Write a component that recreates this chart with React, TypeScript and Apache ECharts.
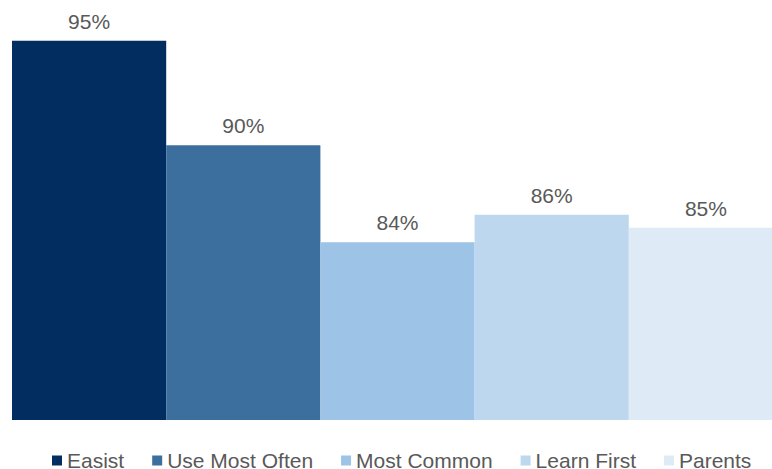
import React, { useEffect, useRef } from "react";
import * as echarts from "echarts";

const seriesNames = ["Easist", "Use Most Often", "Most Common", "Learn First", "Parents"];
const seriesValues = [95.3, 89.6, 84.3, 85.8, 85.1];
const seriesColors = ["#022D60", "#3D6F9E", "#9DC3E6", "#BDD7EE", "#DEEBF7"];
const categories = [""];

export default function App() {
  const ref = useRef<HTMLDivElement>(null);
  useEffect(() => {
    if (!ref.current) return;
    const chart = echarts.init(ref.current, undefined, { renderer: "svg" });
    const font = "'Liberation Sans', Arial, sans-serif";
    chart.setOption({
      animation: false,
      grid: { left: 12, top: 28, width: 771, height: 392 },
      xAxis: { type: "category", data: categories, show: false },
      yAxis: { type: "value", min: 74.6, max: 96, show: false },
      legend: {
        left: 52,
        top: 450,
        padding: 0,
        itemWidth: 10,
        itemHeight: 10,
        itemGap: 28,
        icon: "rect",
        data: seriesNames,
        textStyle: { color: "#595959", fontSize: 21, lineHeight: 18, fontFamily: font },
      },
      series: seriesNames.map((name, i) => ({
        name,
        type: "bar",
        data: [seriesValues[i]],
        barGap: "0%",
        barCategoryGap: "0%",
        itemStyle: { color: seriesColors[i] },
        label: {
          show: true,
          position: "top",
          distance: 9,
          color: "#595959",
          fontSize: 21,
          fontFamily: font,
          formatter: (p: any) => Math.round(p.value) + "%",
        },
      })),
    });
    return () => chart.dispose();
  }, []);
  return (
    <div
      style={{ position: "fixed", left: 0, top: 0, width: 772, height: 469, overflow: "hidden", background: "#fff" }}
    >
      <div ref={ref} style={{ width: 784, height: 469 }} />
    </div>
  );
}
